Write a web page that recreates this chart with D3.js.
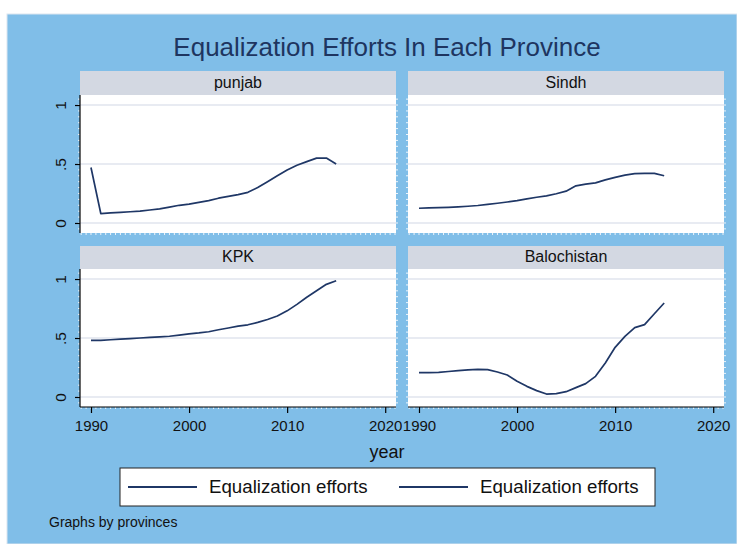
<!DOCTYPE html>
<html>
<head>
<meta charset="utf-8">
<script src="https://cdn.jsdelivr.net/npm/d3@7"></script>
<style>
body { margin: 0; background: #ffffff; }
svg text { font-family: "Liberation Sans", Arial, Helvetica, sans-serif; }
</style>
</head>
<body>
<svg id="chart" width="737" height="544"></svg>
<script>
// data
var years = [1990, 1991, 1992, 1993, 1994, 1995, 1996, 1997, 1998, 1999, 2000, 2001, 2002,
             2003, 2004, 2005, 2006, 2007, 2008, 2009, 2010, 2011, 2012, 2013, 2014, 2015];
var provinces = ["punjab", "Sindh", "KPK", "Balochistan"];
var punjab = [0.47, 0.08, 0.085, 0.09, 0.095, 0.10, 0.11, 0.12, 0.135, 0.15, 0.16, 0.175, 0.19,
              0.21, 0.225, 0.24, 0.26, 0.30, 0.35, 0.40, 0.45, 0.49, 0.52, 0.55, 0.55, 0.50];
var sindh = [0.125, 0.128, 0.13, 0.133, 0.137, 0.142, 0.148, 0.157, 0.167, 0.178, 0.19, 0.205, 0.218,
             0.23, 0.248, 0.27, 0.315, 0.33, 0.34, 0.365, 0.387, 0.405, 0.418, 0.42, 0.42, 0.40];
var kpk = [0.48, 0.48, 0.485, 0.49, 0.495, 0.50, 0.505, 0.51, 0.515, 0.525, 0.535, 0.543, 0.553,
           0.57, 0.585, 0.60, 0.612, 0.632, 0.657, 0.686, 0.73, 0.785, 0.845, 0.90, 0.955, 0.985];
var balochistan = [0.206, 0.206, 0.209, 0.216, 0.223, 0.229, 0.234, 0.232, 0.212, 0.186, 0.133, 0.09, 0.054,
                   0.025, 0.028, 0.045, 0.079, 0.113, 0.175, 0.288, 0.421, 0.514, 0.588, 0.613, 0.706, 0.797];
var xTicks = [1990, 2000, 2010, 2020];
var yTicks = [0, 0.5, 1];
var yTickLabels = ["0", ".5", "1"];
var legendLabels = ["Equalization efforts", "Equalization efforts"];

var series = [punjab, sindh, kpk, balochistan];

var navy = "#1f3766";
var svg = d3.select("#chart");

svg.append("rect")
    .attr("x", 7).attr("y", 14)
    .attr("width", 730).attr("height", 530)
    .attr("fill", "#80bee8")
    .attr("stroke", "#dbe5ef")
    .attr("stroke-width", 1);

svg.append("text")
    .text("Equalization Efforts In Each Province")
    .attr("x", 387).attr("y", 56)
    .attr("text-anchor", "middle")
    .attr("font-size", 26)
    .attr("fill", "#1e3560");

// panel boxes: column x ranges, row y ranges
var cols = [[80, 396], [408, 724]];
var rows = [{strip: 71, top: 95, bottom: 233}, {strip: 246, top: 269, bottom: 407}];

var drawPanel = function(i) {
    var col = cols[i % 2];
    var row = rows[Math.floor(i / 2)];
    var isLeft = (i % 2 === 0);
    var isBottom = (i >= 2);

    var xScale = d3.scaleLinear()
        .domain([1988.88, 2021.1])
        .range(col);
    var yScale = d3.scaleLinear()
        .domain([-0.085, 1.085])
        .range([row.bottom, row.top]);

    var g = svg.append("g").attr("class", "panel");

    // strip
    g.append("rect")
        .attr("x", col[0]).attr("y", row.strip)
        .attr("width", col[1] - col[0]).attr("height", row.top - row.strip)
        .attr("fill", "#d3d8e2");
    g.append("text")
        .text(provinces[i])
        .attr("x", (col[0] + col[1]) / 2)
        .attr("y", row.top - 7)
        .attr("text-anchor", "middle")
        .attr("font-size", 16)
        .attr("fill", "#111111");

    // plot region
    g.append("rect")
        .attr("x", col[0]).attr("y", row.top)
        .attr("width", col[1] - col[0]).attr("height", row.bottom - row.top)
        .attr("fill", "#ffffff");

    g.selectAll("line.grid")
        .data(yTicks)
        .enter()
        .append("line")
        .attr("class", "grid")
        .attr("x1", col[0]).attr("x2", col[1])
        .attr("y1", function(d) { return yScale(d); })
        .attr("y2", function(d) { return yScale(d); })
        .attr("stroke", "#e1e5ee")
        .attr("stroke-width", 1.5);

    // faint minor ticks round the plot region
    var minorY = d3.range(-0.05, 1.08, 0.05);
    var minorX = d3.range(1989, 2021.01, 0.5);
    g.selectAll("line.myl")
        .data(minorY).enter().append("line")
        .attr("x1", col[0] - 2).attr("x2", col[0])
        .attr("y1", function(d) { return yScale(d); })
        .attr("y2", function(d) { return yScale(d); })
        .attr("stroke", "#eef4fa").attr("stroke-width", 1);
    g.selectAll("line.myr")
        .data(minorY).enter().append("line")
        .attr("x1", col[1]).attr("x2", col[1] + 2)
        .attr("y1", function(d) { return yScale(d); })
        .attr("y2", function(d) { return yScale(d); })
        .attr("stroke", "#eef4fa").attr("stroke-width", 1);
    g.selectAll("line.mx")
        .data(minorX).enter().append("line")
        .attr("x1", function(d) { return xScale(d); })
        .attr("x2", function(d) { return xScale(d); })
        .attr("y1", row.bottom).attr("y2", row.bottom + 2)
        .attr("stroke", "#eef4fa").attr("stroke-width", 1);

    var line = d3.line()
        .x(function(d, j) { return xScale(years[j]); })
        .y(function(d) { return yScale(d); });

    g.append("path")
        .datum(series[i])
        .attr("d", line)
        .attr("fill", "none")
        .attr("stroke", navy)
        .attr("stroke-width", 1.7)
        .attr("stroke-linejoin", "round");

    if (isLeft) {
        var yAxis = d3.axisLeft(yScale)
            .tickValues(yTicks)
            .tickSize(5)
            .tickFormat(function(d, j) { return yTickLabels[j]; });
        var ya = g.append("g")
            .attr("transform", "translate(" + col[0] + ",0)")
            .call(yAxis);
        ya.select(".domain")
            .attr("d", "M0," + row.top + "V" + row.bottom)
            .attr("stroke", "#000").attr("stroke-width", 1.2);
        ya.selectAll(".tick line").attr("stroke", "#000").attr("stroke-width", 1.2);
        ya.selectAll(".tick text")
            .attr("font-size", 15.5)
            .attr("font-family", "Liberation Sans, Arial, sans-serif")
            .attr("fill", "#111")
            .attr("x", null).attr("dy", null)
            .attr("text-anchor", "middle")
            .attr("transform", "translate(-14,0) rotate(-90)");
    }

    if (isBottom) {
        var xAxis = d3.axisBottom(xScale)
            .tickValues(xTicks)
            .tickSize(6)
            .tickFormat(d3.format("d"));
        var xa = g.append("g")
            .attr("transform", "translate(0," + row.bottom + ")")
            .call(xAxis);
        xa.select(".domain")
            .attr("d", "M" + col[0] + ",0H" + col[1])
            .attr("stroke", "#000").attr("stroke-width", 1.2);
        xa.selectAll(".tick line").attr("stroke", "#000").attr("stroke-width", 1.2);
        xa.selectAll(".tick text")
            .attr("font-size", 15)
            .attr("font-family", "Liberation Sans, Arial, sans-serif")
            .attr("fill", "#111")
            .attr("y", 24).attr("dy", null);
    }
};

for (var p = 0; p < provinces.length; p++) {
    drawPanel(p);
}

svg.append("text")
    .text("year")
    .attr("x", 387).attr("y", 458)
    .attr("text-anchor", "middle")
    .attr("font-size", 18)
    .attr("fill", "#111");

// legend
var legend = svg.append("g").attr("class", "legend");
legend.append("rect")
    .attr("x", 120).attr("y", 468)
    .attr("width", 535).attr("height", 38)
    .attr("fill", "#ffffff")
    .attr("stroke", "#222")
    .attr("stroke-width", 1);
var legendX = d3.scaleOrdinal()
    .domain([0, 1])
    .range([128, 399]);
legend.selectAll("line.key")
    .data(legendLabels).enter().append("line")
    .attr("class", "key")
    .attr("x1", function(d, j) { return legendX(j); })
    .attr("x2", function(d, j) { return legendX(j) + 69; })
    .attr("y1", 487).attr("y2", 487)
    .attr("stroke", navy).attr("stroke-width", 1.8);
legend.selectAll("text.key")
    .data(legendLabels).enter().append("text")
    .attr("class", "key")
    .text(function(d) { return d; })
    .attr("x", function(d, j) { return legendX(j) + 81; })
    .attr("y", 493)
    .attr("font-size", 18.7)
    .attr("fill", "#111");

svg.append("text")
    .text("Graphs by provinces")
    .attr("x", 49).attr("y", 527)
    .attr("font-size", 14)
    .attr("fill", "#111");
</script>
</body>
</html>
